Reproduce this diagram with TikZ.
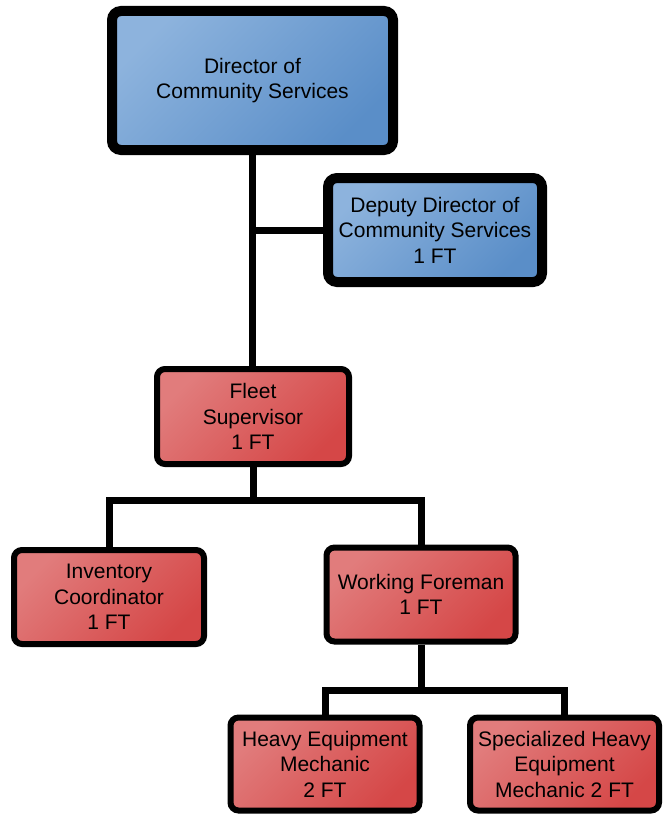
\documentclass[tikz,border=0pt]{standalone}
\usepackage{fontspec}
\setmainfont{Liberation Sans}
\usepackage{tikz}
\usetikzlibrary{calc,backgrounds}
\definecolor{bluelight}{HTML}{8DB3DD}
\definecolor{bluedark}{HTML}{5A8EC8}
\definecolor{redlight}{HTML}{E17C7C}
\definecolor{reddark}{HTML}{D54747}

\begin{document}
\begin{tikzpicture}[x=1pt,y=-1pt,
    bluebox/.style={draw=black,line width=10pt,rounded corners=9pt,align=center,
        top color=bluelight,bottom color=bluedark,shading angle=45,
        font=\fontsize{21}{25.5}\selectfont,inner sep=0pt},
    redbox/.style={draw=black,line width=6pt,rounded corners=8pt,align=center,
        top color=redlight,bottom color=reddark,shading angle=45,
        font=\fontsize{21}{25.5}\selectfont,inner sep=0pt,
        minimum width=189pt,minimum height=94pt},
    link/.style={line width=7pt,black}]
                 \useasboundingbox (0,0) rectangle (663,816);
                 \node[bluebox,minimum width=281pt,minimum height=139pt](director)at(252.5,80.5){Director of\\Community Services};
                 \node[bluebox,minimum width=214pt,minimum height=104pt](deputy)at(435,230){Deputy Director of\\Community Services\\1 FT};
                 \node[redbox,minimum width=192pt,minimum height=95pt](fleet)at(253,416.5){Fleet\\Supervisor\\1 FT};
                 \node[redbox,minimum width=190pt](inventory)at(109,597){Inventory\\Coordinator\\1 FT};
                 \node[redbox](foreman)at(421,594.5){Working Foreman\\1 FT};
                 \node[redbox,minimum height=93pt](heavy)at(325,764){Heavy Equipment\\Mechanic\\2 FT};
                 \node[redbox,minimum height=93pt](special)at(564.5,764){Specialized Heavy\\Equipment\\Mechanic 2 FT};
                 \coordinate (fleetbus) at (253,500);
                 \coordinate (foremanbus) at (421,690);
                 \begin{scope}[on background layer]
                 \draw[link](director.south)--(director.south|-fleet.north);
                 \draw[link](deputy.west)--(deputy.west-|director.south);
                 \draw[link](fleet.south)--(fleetbus);
                 \draw[link](inventory.north)|-(fleetbus)-|(foreman.north);
                 \draw[link](foreman.south)--(foremanbus);
                 \draw[link](heavy.north)|-(foremanbus)-|(special.north);
                 \end{scope}
               \end{tikzpicture}
\end{document}
